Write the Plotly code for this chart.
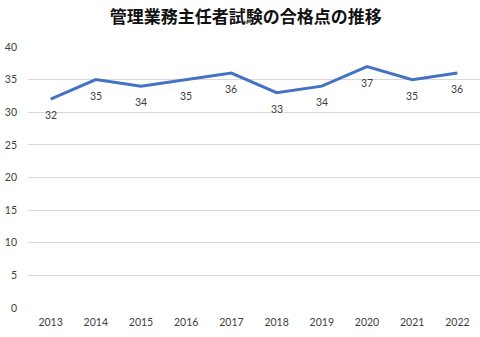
import plotly.graph_objects as go

years = ["2013", "2014", "2015", "2016", "2017", "2018", "2019", "2020", "2021", "2022"]
scores = [32, 35, 34, 35, 36, 33, 34, 37, 35, 36]
y_ticks = [0, 5, 10, 15, 20, 25, 30, 35, 40]
title_text = "管理業務主任者試験の合格点の推移"

num_font = "Lato, 'Open Sans', sans-serif"

fig = go.Figure()
fig.add_trace(go.Scatter(
    x=years, y=scores, mode="lines",
    line=dict(color="#4472C4", width=3),
    hoverinfo="skip",
))
for i, y in enumerate(scores):
    fig.add_annotation(x=i, y=y, text=str(y), showarrow=False, yshift=-16,
                       font=dict(family=num_font, size=10.5, color="#404040"))

fig.update_layout(
    width=480, height=337,
    margin=dict(l=28, r=0, t=47, b=29),
    paper_bgcolor="white", plot_bgcolor="white",
    showlegend=False,
    title=dict(text="<b>" + title_text + "</b>", x=0.512, xanchor="center",
               y=1 - 17.5 / 337, yanchor="middle",
               font=dict(family="'Noto Sans CJK JP'", size=17, color="#111111")),
)
fig.update_xaxes(type="category", range=[-0.5, len(years) - 0.5],
                 showgrid=False, zeroline=False, showline=False,
                 ticks="", ticklabelstandoff=6,
                 tickfont=dict(family=num_font, size=10.5, color="#404040"))
fig.update_yaxes(range=[0, 40], tickvals=y_ticks, showgrid=True, gridcolor="#d9d9d9",
                 gridwidth=1, zeroline=False, showline=False, ticks="",
                 ticklabelstandoff=10,
                 tickfont=dict(family=num_font, size=10.5, color="#404040"))

fig.write_html("out.html")
